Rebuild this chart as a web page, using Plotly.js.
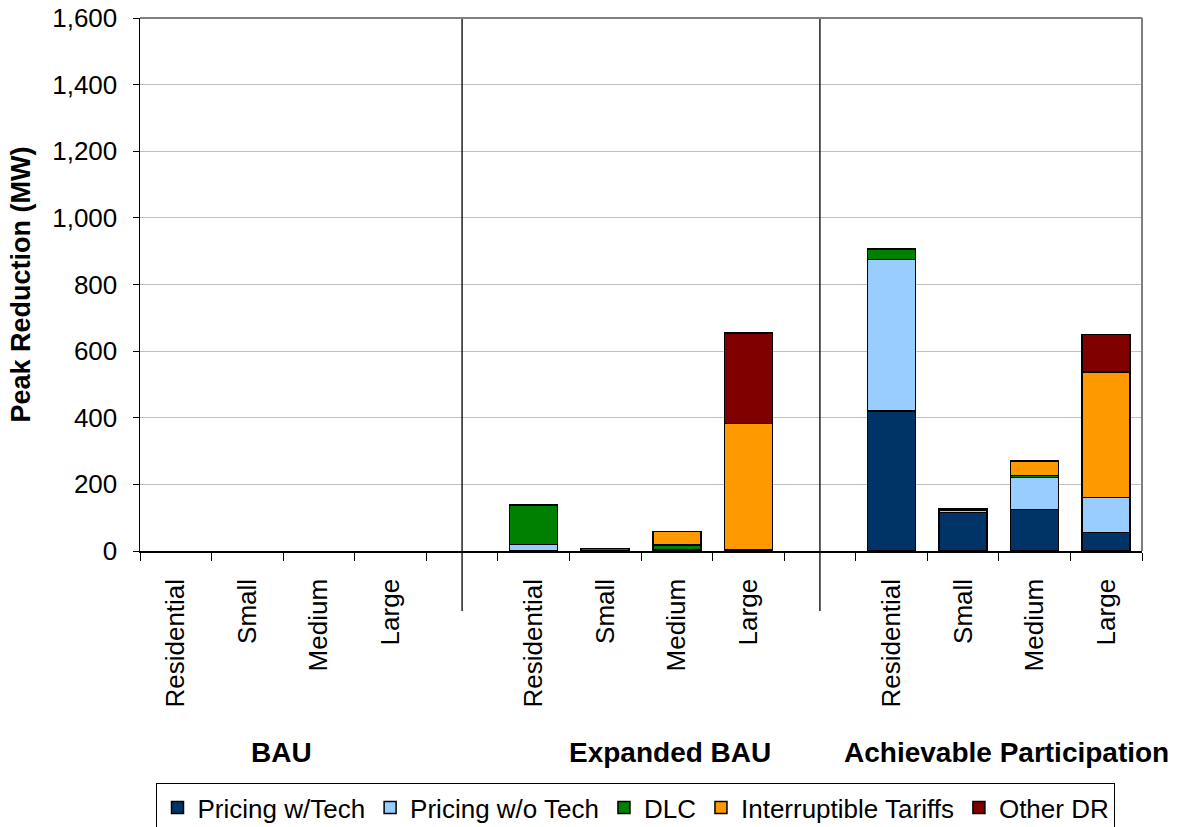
<!DOCTYPE html>
<html>
<head>
<meta charset="utf-8">
<script src="https://cdn.plot.ly/plotly-3.0.1.min.js"></script>
<style>
  html, body { margin: 0; padding: 0; background: #fff; }
  #chart { width: 1179px; height: 827px; }
</style>
</head>
<body>
<div id="chart"></div>
<script>
// Scenario groups and the customer classes shown within each one
const scenarios = ['BAU', 'Expanded BAU', 'Achievable Participation'];
const classes = ['Residential', 'Small', 'Medium', 'Large'];

// Peak reduction (MW) per program type, ordered scenario by scenario,
// class by class (Residential, Small, Medium, Large)
const pricingWithTech    = [0, 0, 0, 0,   0, 0,  3,   4,  420, 116, 125,  55];
const pricingWithoutTech = [0, 0, 0, 0,  20, 0,  0,   0,  455,   6,  95, 105];
const dlc                = [0, 0, 0, 0, 118, 8, 15,   0,   32,   4,   6,   0];
const interruptible      = [0, 0, 0, 0,   0, 0, 41, 379,    0,   0,  44, 378];
const otherDR            = [0, 0, 0, 0,   0, 0,  0, 271,    0,   0,   0, 112];

const seriesNames = ['Pricing w/Tech', 'Pricing w/o Tech', 'DLC', 'Interruptible Tariffs', 'Other DR'];
const seriesValues = [pricingWithTech, pricingWithoutTech, dlc, interruptible, otherDR];
const seriesColors = ['#003366', '#99CCFF', '#008000', '#FF9900', '#800000'];

// Each scenario occupies four bar slots followed by one empty separator slot
const slotsPerGroup = classes.length + 1;
const xPos = [];
const tickText = [];
scenarios.forEach((s, g) => {
  classes.forEach((c, i) => {
    xPos.push(g * slotsPerGroup + i);
    tickText.push(c);
  });
});
const totalSlots = scenarios.length * slotsPerGroup - 1;
const slotEdges = [];
for (let i = 0; i <= totalSlots; i++) slotEdges.push(i - 0.5);

const FONT = 'Liberation Sans, Arial, sans-serif';
const PLOT_H = 827 - 18 - 276;

// empty segments are left undrawn so no outline shows on the baseline
const traces = seriesNames.map((name, k) => ({
  type: 'bar',
  name: name,
  x: xPos,
  y: seriesValues[k].map(v => (v === 0 ? null : v)),
  width: 0.67,
  marker: { color: seriesColors[k], line: { color: '#000', width: 1.5 } },
  hoverinfo: 'name+y'
}));

const shapes = [];
// vertical separators between scenarios
for (let g = 1; g < scenarios.length; g++) {
  const xs = g * slotsPerGroup - 1;
  shapes.push({
    type: 'line', xref: 'x', yref: 'paper',
    x0: xs, x1: xs, y0: 1, y1: -60 / PLOT_H,
    line: { color: '#000', width: 1.3 }
  });
}
// top and right frame of the plot area
shapes.push({ type: 'line', xref: 'paper', yref: 'paper', x0: 0, x1: 1, y0: 1, y1: 1,
  line: { color: '#808080', width: 2 } });
shapes.push({ type: 'line', xref: 'paper', yref: 'paper', x0: 1, x1: 1, y0: 0, y1: 1,
  line: { color: '#808080', width: 2 } });

// scenario labels under the class names
const groupCenters = [1.47, 6.9, 11.6];
const annotations = scenarios.map((s, g) => ({
  text: '<b>' + s + '</b>',
  xref: 'x', yref: 'paper',
  x: groupCenters[g], y: -201 / PLOT_H,
  xanchor: 'center', yanchor: 'middle',
  showarrow: false,
  font: { family: FONT, size: 28, color: '#000' }
}));

const layout = {
  width: 1179,
  height: 827,
  margin: { l: 140, r: 37, t: 18, b: 276, autoexpand: false },
  paper_bgcolor: '#fff',
  plot_bgcolor: '#fff',
  barmode: 'stack',
  showlegend: true,
  font: { family: FONT, color: '#000' },
  xaxis: {
    range: [-0.5, totalSlots - 0.5],
    tickmode: 'array',
    tickvals: xPos,
    ticktext: tickText,
    tickangle: -90,
    ticks: '',
    ticklabelstandoff: 16,
    tickfont: { family: FONT, size: 26, color: '#000' },
    minor: {
      tickmode: 'array',
      tickvals: slotEdges,
      ticks: 'outside', ticklen: 8, tickwidth: 1, tickcolor: '#000',
      showgrid: false
    },
    showline: true, linecolor: '#000', linewidth: 1.5,
    showgrid: false, zeroline: false,
    fixedrange: true
  },
  yaxis: {
    range: [0, 1600],
    dtick: 200,
    tickformat: ',d',
    ticks: 'outside', ticklen: 6, tickcolor: '#000',
    ticklabelstandoff: 10,
    tickfont: { family: FONT, size: 26, color: '#000' },
    showline: true, linecolor: '#000', linewidth: 1.5,
    showgrid: true, gridcolor: '#c0c0c0', gridwidth: 1,
    zeroline: false,
    title: { text: '<b>Peak Reduction (MW)</b>', font: { family: FONT, size: 27, color: '#000' }, standoff: 14 },
    fixedrange: true
  },
  legend: {
    orientation: 'h',
    x: 0.495, xanchor: 'center',
    y: -232 / PLOT_H, yanchor: 'top',
    traceorder: 'normal',
    bgcolor: '#fff',
    bordercolor: '#000', borderwidth: 1,
    font: { family: FONT, size: 26, color: '#000' },
    itemwidth: 30,
    tracegroupgap: 0
  },
  shapes: shapes,
  annotations: annotations
};

Plotly.newPlot('chart', traces, layout, { displayModeBar: false, staticPlot: true });
</script>
</body>
</html>
